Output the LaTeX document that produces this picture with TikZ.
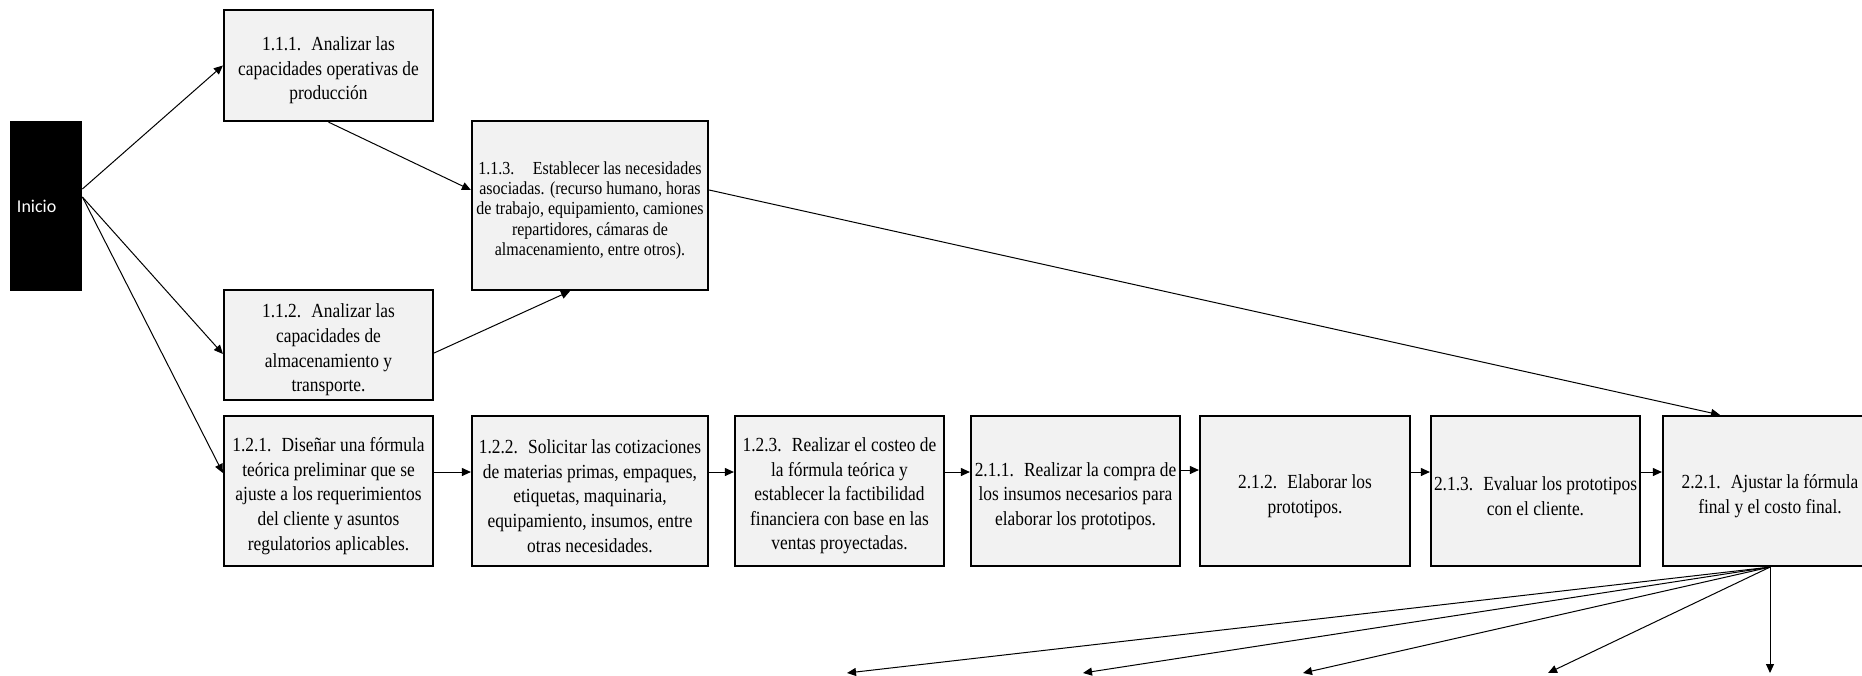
\documentclass[tikz,border=0pt]{standalone}
\usepackage{fontspec}
\setmainfont[FakeStretch=0.87]{Liberation Serif}
\newfontfamily\carlito{Carlito}
\usetikzlibrary{arrows.meta,positioning}

\begin{document}
\begin{tikzpicture}[x=0.5pt,y=-0.5pt,
  caja/.style={draw=black,line width=1.1pt,fill=black!5,inner sep=0pt},
  texto/.style={align=center,inner sep=0pt,yshift=-2.5pt,font=\fontsize{10}{12.3}\selectfont},
  chica/.style={texto,font=\fontsize{9.2}{10.1}\selectfont},
  fila/.style={caja,minimum height=75pt},
  flecha/.style={-{Triangle[length=4.5pt,width=4pt]},line width=.5pt}]
\useasboundingbox (0,0) rectangle (1862,675);
% inicio
\node[fill=black,text=white,minimum width=36pt,minimum height=85pt,inner xsep=3.5pt,text width=29pt,align=left,font=\carlito\fontsize{9}{11}\selectfont] (inicio) at (46,206) {Inicio};
% bloque 1.1
\node[caja,minimum width=104.5pt,minimum height=55.5pt,label={[texto]center:1.1.1.~ Analizar las\\capacidades operativas de\\producción}] (n111) at (328.5,65.5) {};
\node[caja,minimum width=118pt,minimum height=84.5pt,label={[chica]center:1.1.3.\quad Establecer las necesidades\\asociadas. (recurso humano, horas\\de trabajo, equipamiento, camiones\\repartidores, cámaras de\\almacenamiento, entre otros).}] (n113) at (590,205.5) {};
\node[caja,minimum width=104.5pt,minimum height=55pt,label={[texto]center:1.1.2.~ Analizar las\\capacidades de\\almacenamiento y\\transporte.}] (n112) at (328.5,345) {};
% fila inferior
\node[fila,minimum width=104.5pt,label={[texto]center:1.2.1.~ Diseñar una fórmula\\teórica preliminar que se\\ajuste a los requerimientos\\del cliente y asuntos\\regulatorios aplicables.}] (n121) at (328.5,491) {};
\node[fila,minimum width=118pt,label={[texto]center:1.2.2.~ Solicitar las cotizaciones\\de materias primas, empaques,\\etiquetas, maquinaria,\\equipamiento, insumos, entre\\otras necesidades.}] (n122) at (590,491) {};
\node[fila,minimum width=104.5pt,label={[texto]center:1.2.3.~ Realizar el costeo de\\la fórmula teórica y\\establecer la factibilidad\\financiera con base en las\\ventas proyectadas.}] (n123) at (839.5,491) {};
\node[fila,minimum width=104.5pt,label={[texto]center:2.1.1.~ Realizar la compra de\\los insumos necesarios para\\elaborar los prototipos.}] (n211) at (1075.5,491) {};
\node[fila,minimum width=105pt,label={[texto]center:2.1.2.~ Elaborar los\\prototipos.}] (n212) at (1305,491) {};
\node[fila,minimum width=104.5pt,label={[texto]center:2.1.3.~ Evaluar los prototipos\\con el cliente.}] (n213) at (1535.5,491) {};
\node[fila,minimum width=107pt,label={[texto]center:2.2.1.~ Ajustar la fórmula\\final y el costo final.}] (n221) at (1770,491) {};
% salidas
\coordinate (s1) at (847,673);
\coordinate (s2) at (1083,673);
\coordinate (s3) at (1303,673);
\coordinate (s4) at (1548,673);
\coordinate (s5) at (1770,673);
% conectores
\draw[flecha] ([yshift=8.5pt]inicio.east) -- (n111.west);
\draw[flecha] ([yshift=4.5pt]inicio.east) -- ([yshift=-4.5pt]n112.west);
\draw[flecha] ([yshift=4.5pt]inicio.east) -- ([yshift=9pt]n121.west);
\draw[flecha] (n111.south) -- ([yshift=7.75pt]n113.west);
\draw[flecha] ([yshift=-4pt]n112.east) -- ([xshift=-10pt]n113.south);
\draw[flecha] ([yshift=7.75pt]n113.east) -- ([xshift=-25pt]n221.north);
\draw[flecha] ([yshift=9.5pt]n121.east) -- ([yshift=9.5pt]n122.west);
\draw[flecha] ([yshift=9.5pt]n122.east) -- ([yshift=9.5pt]n123.west);
\draw[flecha] ([yshift=9.5pt]n123.east) -- ([yshift=9.5pt]n211.west);
\draw[flecha] ([yshift=10.5pt]n211.east) -- ([yshift=10.5pt]n212.west);
\draw[flecha] ([yshift=9.5pt]n212.east) -- ([yshift=9.5pt]n213.west);
\draw[flecha] ([yshift=9.5pt]n213.east) -- ([yshift=9.5pt]n221.west);
\draw[flecha] (n221.south) -- (s1);
\draw[flecha] (n221.south) -- (s2);
\draw[flecha] (n221.south) -- (s3);
\draw[flecha] (n221.south) -- (s4);
\draw[flecha] (n221.south) -- (s5);
\end{tikzpicture}
\end{document}
